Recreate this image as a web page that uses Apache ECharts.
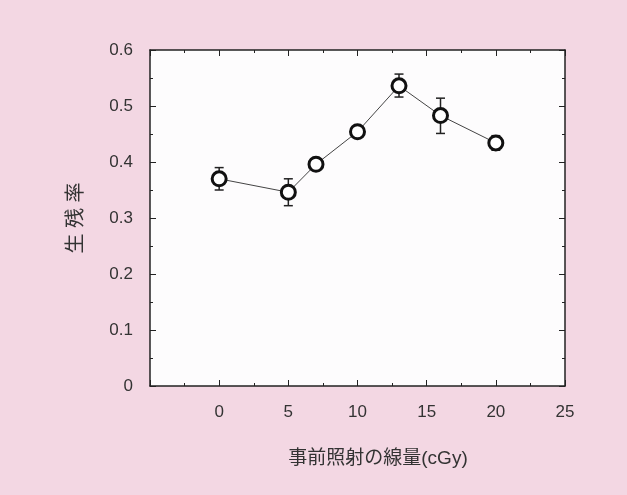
<!DOCTYPE html>
<html>
<head>
<meta charset="utf-8">
<script src="https://cdn.jsdelivr.net/npm/echarts@6/dist/echarts.min.js"></script>
<style>
html,body{margin:0;padding:0;background:#f3d7e3;}
#c{width:627px;height:495px;}
</style>
</head>
<body>
<div id="c"></div>
<script>
const doses = [0, 5, 7, 10, 13, 16, 20];
const survival = [0.370, 0.346, 0.396, 0.454, 0.536, 0.483, 0.434];
const errLow = [0.350, 0.322, 0.385, 0.446, 0.516, 0.451, 0.421];
const errHigh = [0.390, 0.370, 0.406, 0.461, 0.557, 0.514, 0.447];
const xTickLabels = ['0', '5', '10', '15', '20', '25'];
const yTickLabels = ['0', '0.1', '0.2', '0.3', '0.4', '0.5', '0.6'];
const xName = '事前照射の線量(cGy)';
const yName = '生 残 率';

const FONT = '"Liberation Sans", Arial, "Noto Sans CJK JP", sans-serif';
const axisColor = '#222';

const chart = echarts.init(document.getElementById('c'));
const points = doses.map((d, i) => [d, survival[i]]);
const errs = doses.map((d, i) => [d, errLow[i], errHigh[i]]);

const baseX = {
  type: 'value', min: -5, max: 25, interval: 5,
  axisLine: {show: true, onZero: false, lineStyle: {color: axisColor, width: 1.5}},
  axisTick: {show: true, inside: true, length: 6, lineStyle: {color: axisColor}},
  minorTick: {show: true, splitNumber: 2, length: 3, lineStyle: {color: axisColor}},
  splitLine: {show: false}
};
const baseY = {
  type: 'value', min: 0, max: 0.6, interval: 0.1,
  axisLine: {show: true, onZero: false, lineStyle: {color: axisColor, width: 1.5}},
  axisTick: {show: true, inside: true, length: 6, lineStyle: {color: axisColor}},
  minorTick: {show: true, splitNumber: 2, length: 3, lineStyle: {color: axisColor}},
  splitLine: {show: false}
};

chart.setOption({
  backgroundColor: '#f3d7e3',
  grid: {left: 150, right: 62, top: 50, bottom: 109, show: true, backgroundColor: '#fdfcfd', borderWidth: 0},
  xAxis: [
    Object.assign({}, baseX, {
      position: 'bottom',
      axisLabel: {
        show: true, margin: 18, fontSize: 17, color: '#333', fontFamily: FONT,
        formatter: v => { const s = String(Math.round(v)); return xTickLabels.indexOf(s) >= 0 ? s : ''; }
      }
    }),
    Object.assign({}, baseX, {position: 'top', axisLabel: {show: false}})
  ],
  yAxis: [
    Object.assign({}, baseY, {
      position: 'left',
      name: yName, nameLocation: 'middle', nameGap: 64, nameRotate: 90,
      nameTextStyle: {fontSize: 20, color: '#333', fontFamily: FONT},
      axisLabel: {
        show: true, margin: 17, fontSize: 17, color: '#333', fontFamily: FONT,
        formatter: v => { const s = String(Math.round(v * 10) / 10); return yTickLabels.indexOf(s) >= 0 ? s : ''; }
      }
    }),
    Object.assign({}, baseY, {position: 'right', axisLabel: {show: false}})
  ],
  graphic: [{
    type: 'text', x: 378, y: 459,
    style: {text: xName, fontSize: 19, fill: '#333', fontFamily: FONT, align: 'center', verticalAlign: 'middle'}
  }],
  series: [
    {
      type: 'custom',
      xAxisIndex: 0, yAxisIndex: 0,
      data: errs,
      z: 2,
      renderItem: function (params, api) {
        const x = api.value(0);
        const lo = api.coord([x, api.value(1)]);
        const hi = api.coord([x, api.value(2)]);
        const w = 4.5;
        const st = {stroke: '#222', lineWidth: 1.5};
        return {
          type: 'group',
          children: [
            {type: 'line', shape: {x1: lo[0], y1: lo[1], x2: hi[0], y2: hi[1]}, style: st},
            {type: 'line', shape: {x1: lo[0] - w, y1: lo[1], x2: lo[0] + w, y2: lo[1]}, style: st},
            {type: 'line', shape: {x1: hi[0] - w, y1: hi[1], x2: hi[0] + w, y2: hi[1]}, style: st}
          ]
        };
      }
    },
    {
      type: 'line',
      xAxisIndex: 0, yAxisIndex: 0,
      data: points,
      z: 3,
      symbol: 'circle', symbolSize: 14,
      lineStyle: {color: '#444', width: 1},
      itemStyle: {color: '#fff', borderColor: '#111', borderWidth: 3},
      animation: false
    }
  ],
  animation: false
});
</script>
</body>
</html>
